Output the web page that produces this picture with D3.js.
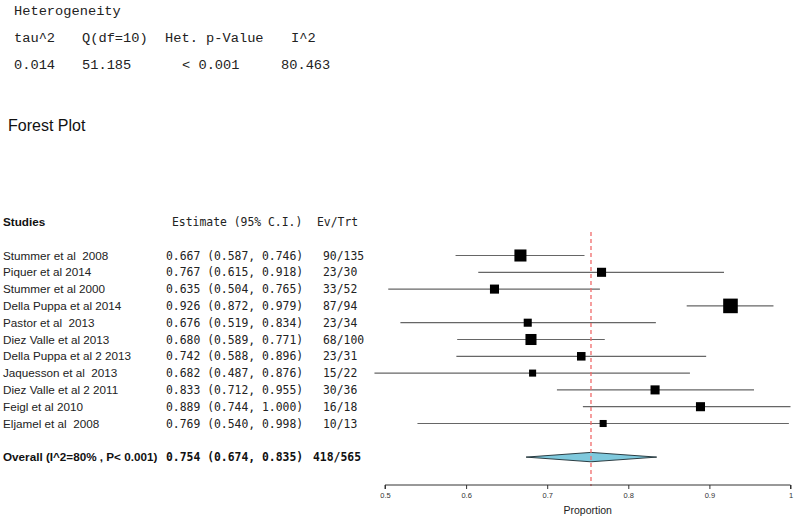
<!DOCTYPE html>
<html><head><meta charset="utf-8">
<script src="https://cdn.jsdelivr.net/npm/d3@7/dist/d3.min.js"></script>
<style>body{margin:0;background:#fff}svg{display:block}</style>
</head><body><svg id="c" width="795" height="518"></svg>
<script>
const hetHeaders = ["tau^2", "Q(df=10)", "Het. p-Value", "I^2"];
const hetValues = ["0.014", "51.185", "< 0.001", "80.463"];
const studies = ["Stummer et al  2008","Piquer et al 2014","Stummer et al 2000","Della Puppa et al 2014","Pastor et al  2013","Diez Valle et al 2013","Della Puppa et al 2 2013","Jaquesson et al  2013","Diez Valle et al 2 2011","Feigl et al 2010","Eljamel et al  2008"];
const est = [0.667,0.767,0.635,0.926,0.676,0.680,0.742,0.682,0.833,0.889,0.769];
const lower = [0.587,0.615,0.504,0.872,0.519,0.589,0.588,0.487,0.712,0.744,0.540];
const upper = [0.746,0.918,0.765,0.979,0.834,0.771,0.896,0.876,0.955,1.000,0.998];
const events = [90,23,33,87,23,68,23,15,30,16,10];
const totals = [135,30,52,94,34,100,31,22,36,18,13];
const weights = [14.3,8.1,8.1,21.0,6.4,12.0,7.2,4.9,8.1,8.1,4.9];
const overall = {label:"Overall (I^2=80% , P< 0.001)", est:0.754, lower:0.674, upper:0.835, ev:418, trt:565};
const ticks = [0.5,0.6,0.7,0.8,0.9,1];

const svg = d3.select("#c");
const mono = "'Liberation Mono', 'Courier New', monospace";
const mono2 = "'DejaVu Sans Mono', monospace";
const sans = "'Liberation Sans', Arial, sans-serif";

// Heterogeneity block
svg.append("text").attr("x",14).attr("y",15).attr("font-family",mono).attr("font-size",13.7).attr("fill","#222").text("Heterogeneity");
const hx = [14,82,165,291], vx=[14,82,182,281];
hetHeaders.forEach((h,i)=>svg.append("text").attr("x",hx[i]).attr("y",42).attr("font-family",mono).attr("font-size",13.7).attr("fill","#222").attr("xml:space","preserve").text(h));
hetValues.forEach((h,i)=>svg.append("text").attr("x",vx[i]).attr("y",69).attr("font-family",mono).attr("font-size",13.7).attr("fill","#222").attr("xml:space","preserve").text(h));

svg.append("text").attr("x",8).attr("y",131).attr("font-family",sans).attr("font-size",16).attr("fill","#111").text("Forest Plot");

const x = d3.scaleLinear().domain([0.5,1]).range([385,790.5]);
const y = d3.scaleLinear().domain([0,1]).range([255.5,272.3]);
const sz = d3.scaleSqrt().domain([0,21]).range([0,14.6]);
const f3 = d3.format(".3f");

// headers
svg.append("text").attr("x",3).attr("y",y(-2)+4).attr("font-family",sans).attr("font-weight","bold").attr("font-size",11.7).attr("fill","#111").text("Studies");
svg.append("text").attr("x",172).attr("y",y(-2)+4).attr("font-family",mono2).attr("font-size",11.4).attr("fill","#222").text("Estimate (95% C.I.)");
svg.append("text").attr("x",317).attr("y",y(-2)+4).attr("font-family",mono2).attr("font-size",11.4).attr("fill","#222").text("Ev/Trt");

const g = svg.append("g");
studies.forEach((s,i)=>{
  const yy = y(i);
  g.append("text").attr("x",3).attr("y",yy+4).attr("font-family",sans).attr("font-size",11.7).attr("fill","#222").attr("xml:space","preserve").text(s);
  g.append("text").attr("x",166).attr("y",yy+4).attr("font-family",mono2).attr("font-size",11.4).attr("fill","#222").attr("xml:space","preserve").text(`${f3(est[i])} (${f3(lower[i])}, ${f3(upper[i])})`);
  g.append("text").attr("x",323).attr("y",yy+4).attr("font-family",mono2).attr("font-size",11.4).attr("fill","#222").text(`${events[i]}/${totals[i]}`);
  g.append("line").attr("x1",x(lower[i])).attr("x2",x(upper[i])).attr("y1",yy).attr("y2",yy).attr("stroke","#666").attr("stroke-width",1.2);
  const s2 = sz(weights[i]);
  g.append("rect").attr("x",x(est[i])-s2/2).attr("y",yy-s2/2).attr("width",s2).attr("height",s2).attr("fill","#000");
});

// overall
const yo = y(12);
svg.append("text").attr("x",3).attr("y",yo+4).attr("font-family",sans).attr("font-weight","bold").attr("font-size",11.7).attr("fill","#111").text(overall.label);
svg.append("text").attr("x",166).attr("y",yo+4).attr("font-family",mono2).attr("font-weight","bold").attr("font-size",11.4).attr("fill","#111").text(`${f3(overall.est)} (${f3(overall.lower)}, ${f3(overall.upper)})`);
svg.append("text").attr("x",313).attr("y",yo+4).attr("font-family",mono2).attr("font-weight","bold").attr("font-size",11.4).attr("fill","#111").text(`${overall.ev}/${overall.trt}`);
svg.append("path").attr("d",`M${x(overall.lower)},${yo} L${x(overall.est)},${yo-4.7} L${x(overall.upper)},${yo} L${x(overall.est)},${yo+4.7} Z`).attr("fill","#7fc9dd").attr("stroke","#1a2a30").attr("stroke-width",0.9);

// reference line
svg.append("line").attr("x1",x(overall.est)).attr("x2",x(overall.est)).attr("y1",232).attr("y2",486).attr("stroke","#f06a6a").attr("stroke-width",1.3).attr("stroke-dasharray","4,3");

// axis
const ax = svg.append("g").attr("transform","translate(0,485)")
  .call(d3.axisBottom(x).tickValues(ticks).tickSize(4).tickPadding(4).tickFormat(d=>d===1?"1":d3.format(".1f")(d)));
ax.select(".domain").attr("stroke","#333").attr("d",`M${x(0.5)},4V0H${x(1)}V4`);
ax.selectAll(".tick line").attr("stroke","#333");
ax.selectAll("text").attr("font-family",sans).attr("font-size",7.5).attr("fill","#333");
svg.append("text").attr("x",x(0.75)).attr("y",514).attr("text-anchor","middle").attr("font-family",sans).attr("font-size",10.5).attr("fill","#222").text("Proportion");
</script></body></html>
